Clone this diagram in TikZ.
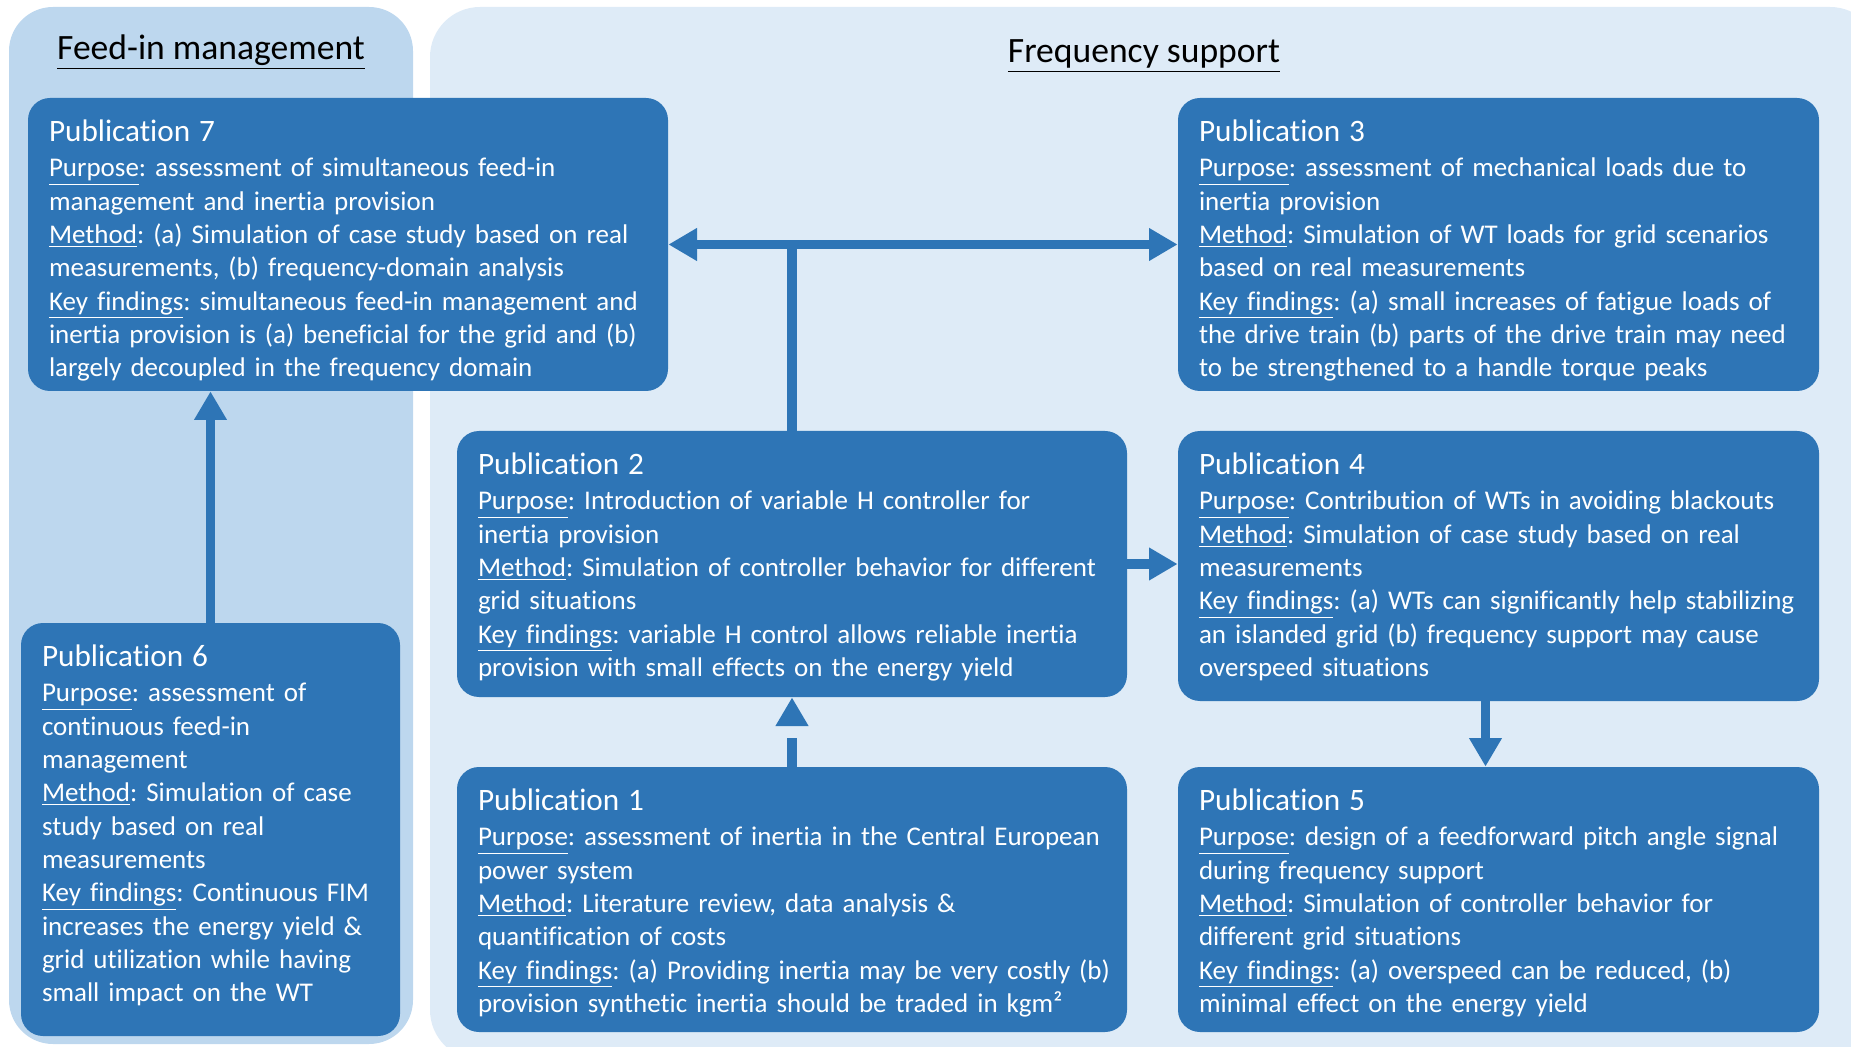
\documentclass[tikz,border=0pt]{standalone}
\usepackage{fontspec}
\setmainfont[Ligatures=NoCommon]{Carlito}
\usetikzlibrary{arrows.meta}

\definecolor{pubblue}{HTML}{2E75B6}
\definecolor{fimback}{HTML}{BDD7EE}
\definecolor{freqback}{HTML}{DEEBF7}

\frenchspacing
\newcommand{\pubfont}{\fontsize{13.5}{16.65}\selectfont}
\newcommand{\pubhead}[1]{{\fontsize{15.6}{16.65}\selectfont #1}\\[1pt]}

\begin{document}
\begin{tikzpicture}[x=0.5pt, y=-0.5pt,
    >={Triangle[length=14.3pt, width=15.5pt]},
    pub/.style={fill=pubblue, rounded corners=11pt, inner sep=0pt},
    pubtext/.style={text=white, align=left, anchor=base west, inner sep=0pt, font=\pubfont},
    conn/.style={draw=pubblue, line width=4.6pt, ->},
    paneltitle/.style={font=\fontsize{17.8}{20}\selectfont, inner sep=0pt}]

  \clip (0,0) rectangle (1851,1047);

  % Background panels
  \fill[fimback, rounded corners=22pt] (9,7) rectangle (413,1044);
  \fill[freqback, rounded corners=25pt] (430,7) rectangle (1880,1060);

  % Panel titles
  \node[paneltitle] (fimtitle) at (211,52) {\underline{Feed-in management}};
  \node[paneltitle] (freqtitle) at (1144,56) {\underline{Frequency support}};

  % Publication boxes
  \node[pub, minimum width=320pt, minimum height=146.5pt] (pub7) at (348,244.5) {};
  \node[pub, minimum width=320.5pt, minimum height=146.5pt] (pub3) at (1498.5,244.5) {};
  \node[pub, minimum width=335pt, minimum height=133pt] (pub2) at (792,564) {};
  \node[pub, minimum width=320.5pt, minimum height=135pt] (pub4) at (1498.5,566) {};
  \node[pub, minimum width=189.5pt, minimum height=206.5pt] (pub6) at (210.5,829.5) {};
  \node[pub, minimum width=335pt, minimum height=132.5pt] (pub1) at (792,899.5) {};
  \node[pub, minimum width=320.5pt, minimum height=132.5pt] (pub5) at (1498.5,899.5) {};

  % Texts of the boxes
  \node[pubtext, text width=310pt] (pub7text) at ([shift={(10.5pt,-22pt)}]pub7.north west) {%
    \pubhead{Publication 7}
    \underline{Purpose}: assessment of simultaneous feed-in\\
    management and inertia provision\\
    \underline{Method}: (a) Simulation of case study based on real\\
    measurements, (b) frequency-domain analysis\\
    \underline{Key findings}: simultaneous feed-in management and\\
    inertia provision is (a) beneficial for the grid and (b)\\
    largely decoupled in the frequency domain};
  \node[pubtext, text width=310pt] (pub3text) at ([shift={(10.5pt,-22pt)}]pub3.north west) {%
    \pubhead{Publication 3}
    \underline{Purpose}: assessment of mechanical loads due to\\
    inertia provision\\
    \underline{Method}: Simulation of WT loads for grid scenarios\\
    based on real measurements\\
    \underline{Key findings}: (a) small increases of fatigue loads of\\
    the drive train (b) parts of the drive train may need\\
    to be strengthened to a handle torque peaks};
  \node[pubtext, text width=325pt] (pub2text) at ([shift={(10.5pt,-22pt)}]pub2.north west) {%
    \pubhead{Publication 2}
    \underline{Purpose}: Introduction of variable H controller for\\
    inertia provision\\
    \underline{Method}: Simulation of controller behavior for different\\
    grid situations\\
    \underline{Key findings}: variable H control allows reliable inertia\\
    provision with small effects on the energy yield};
  \node[pubtext, text width=310pt] (pub4text) at ([shift={(10.5pt,-22pt)}]pub4.north west) {%
    \pubhead{Publication 4}
    \underline{Purpose}: Contribution of WTs in avoiding blackouts\\
    \underline{Method}: Simulation of case study based on real\\
    measurements\\
    \underline{Key findings}: (a) WTs can significantly help stabilizing\\
    an islanded grid (b) frequency support may cause\\
    overspeed situations};
  \node[pubtext, text width=180pt] (pub6text) at ([shift={(10.5pt,-22pt)}]pub6.north west) {%
    \pubhead{Publication 6}
    \underline{Purpose}: assessment of\\
    continuous feed-in\\
    management\\
    \underline{Method}: Simulation of case\\
    study based on real\\
    measurements\\
    \underline{Key findings}: Continuous FIM\\
    increases the energy yield \&\\
    grid utilization while having\\
    small impact on the WT};
  \node[pubtext, text width=325pt] (pub1text) at ([shift={(10.5pt,-22pt)}]pub1.north west) {%
    \pubhead{Publication 1}
    \underline{Purpose}: assessment of inertia in the Central European\\
    power system\\
    \underline{Method}: Literature review, data analysis \&\\
    quantification of costs\\
    \underline{Key findings}: (a) Providing inertia may be very costly (b)\\
    provision synthetic inertia should be traded in kgm²};
  \node[pubtext, text width=310pt] (pub5text) at ([shift={(10.5pt,-22pt)}]pub5.north west) {%
    \pubhead{Publication 5}
    \underline{Purpose}: design of a feedforward pitch angle signal\\
    during frequency support\\
    \underline{Method}: Simulation of controller behavior for\\
    different grid situations\\
    \underline{Key findings}: (a) overspeed can be reduced, (b)\\
    minimal effect on the energy yield};

  % Connections
  \draw[conn] (pub6.north) -- (pub6.north |- pub7.south);
  \draw[pubblue, line width=4.6pt] (pub2.north) -- (pub2.north |- pub7.east);
  \draw[conn, <->] (pub7.east) -- (pub3.west);
  \draw[conn] (pub2.east) -- (pub4.west |- pub2.east);
  \draw[conn, dash pattern=on 14.5pt off 10pt] (pub1.north) -- (pub2.south);
  \draw[conn] ([xshift=-6.5pt]pub4.south) -- ([xshift=-6.5pt]pub5.north);
\end{tikzpicture}
\end{document}
